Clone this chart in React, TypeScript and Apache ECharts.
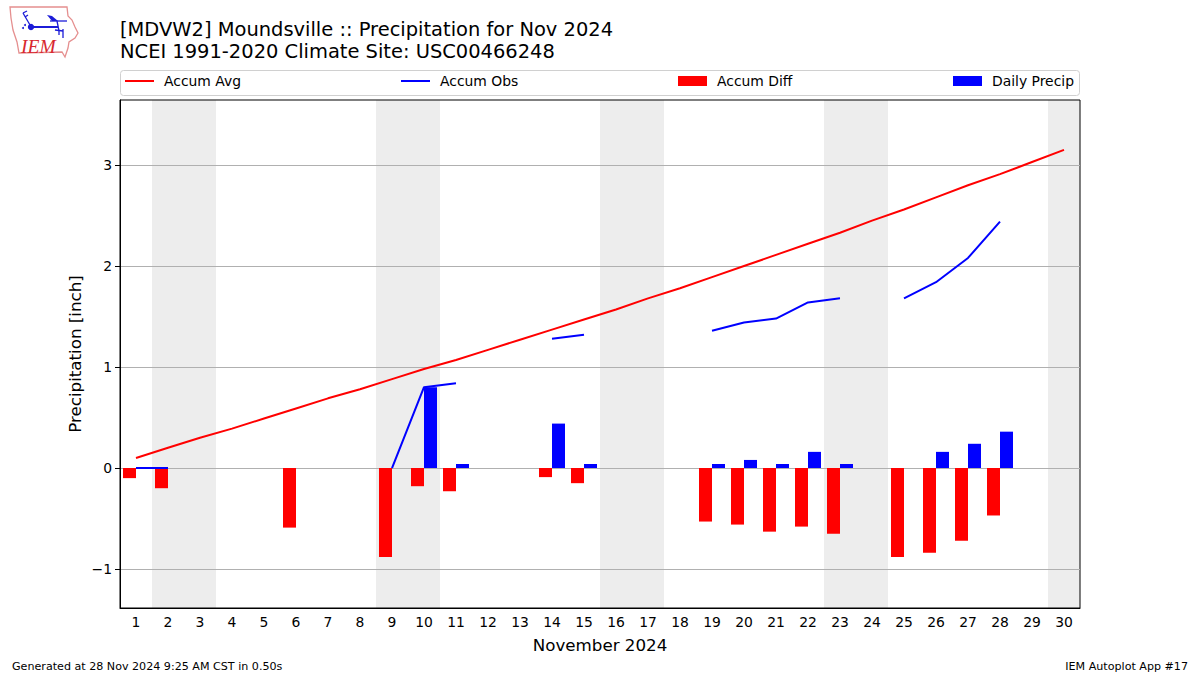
import React, { useEffect, useRef } from "react";
import * as echarts from "echarts";

const FONT = "DejaVu Sans";
const days = Array.from({ length: 30 }, (_, i) => String(i + 1));
const accumAvg = [0.1, 0.2, 0.3, 0.39, 0.49, 0.59, 0.69, 0.78, 0.88, 0.98, 1.07, 1.17, 1.27, 1.37, 1.47, 1.57, 1.68, 1.78, 1.89, 2.0, 2.11, 2.22, 2.33, 2.45, 2.56, 2.68, 2.8, 2.91, 3.03, 3.15];
const accumObs = [0, 0, null, null, null, null, null, null, 0, 0.8, 0.84, null, null, 1.28, 1.32, null, null, null, 1.36, 1.44, 1.48, 1.64, 1.68, null, 1.68, 1.84, 2.08, 2.44, null, null];
const accumDiff = [-0.1, -0.2, null, null, null, -0.59, null, null, -0.88, -0.18, -0.23, null, null, -0.09, -0.15, null, null, null, -0.53, -0.56, -0.63, -0.58, -0.65, null, -0.88, -0.84, -0.72, -0.47, null, null];
const dailyPrecip = [0, 0, null, null, null, null, null, null, null, 0.8, 0.04, null, null, 0.44, 0.04, null, null, null, 0.04, 0.08, 0.04, 0.16, 0.04, null, null, 0.16, 0.24, 0.36, null, null];
const weekendBands = [[1, 2], [8, 9], [15, 16], [22, 23], [29, 29]];
const yTicks = [-1, 0, 1, 2, 3];

const titleLines = "[MDVW2] Moundsville :: Precipitation for Nov 2024\nNCEI 1991-2020 Climate Site: USC00466248";
const footerLeft = "Generated at 28 Nov 2024 9:25 AM CST in 0.50s";
const footerRight = "IEM Autoplot App #17";

const iowa = [[10, 7], [67, 7], [68, 16], [72, 20], [75, 27], [78, 33], [75, 38], [69, 42], [68, 48], [65, 57], [62, 52], [19, 53], [17, 42], [13, 30], [11, 18]];
const blueLines: number[][][] = [
  [[31, 27], [58, 27]],
  [[30, 25], [23, 13]],
  [[23, 13], [27, 11]],
  [[25, 17], [28, 15]],
  [[50, 21], [67, 21]],
  [[57, 21], [59, 31]],
  [[55, 30], [63, 31]],
  [[63, 29], [63, 38]],
  [[59, 31], [59, 35]],
];

const legendItem = (name: string, left: number, icon?: string) => ({
  left,
  top: 74,
  padding: 0,
  itemWidth: 29,
  itemHeight: 10,
  data: [icon ? { name, icon } : { name, itemStyle: { opacity: 0 } }],
  textStyle: { fontFamily: FONT, fontSize: 13.9, color: "#000", padding: [0, 0, 0, 5] },
});

export default function App() {
  const ref = useRef<HTMLDivElement>(null);
  useEffect(() => {
    document.body.style.margin = "0";
    const chart = echarts.init(ref.current!, undefined, { renderer: "svg" });
    chart.setOption({
      animation: false,
      textStyle: { fontFamily: FONT },
      title: [
        { text: titleLines, left: 120, top: 18, padding: 0, textStyle: { fontFamily: FONT, fontSize: 19.47, fontWeight: "normal", color: "#000", lineHeight: 22 } },
        { text: footerLeft, left: 12, top: 661, padding: 0, textStyle: { fontFamily: FONT, fontSize: 11.12, fontWeight: "normal", color: "#000" } },
        { text: footerRight, right: 12, top: 661, padding: 0, textStyle: { fontFamily: FONT, fontSize: 11.12, fontWeight: "normal", color: "#000" } },
      ],
      legend: [
        legendItem("Accum Avg", 124),
        legendItem("Accum Obs", 400),
        legendItem("Accum Diff", 678, "rect"),
        legendItem("Daily Precip", 953, "rect"),
      ],
      grid: { left: 120, top: 100, height: 508, width: 960, show: true, borderColor: "#000", borderWidth: 1, backgroundColor: "transparent" },
      xAxis: {
        type: "category",
        data: days,
        name: "November 2024",
        nameLocation: "middle",
        nameGap: 28,
        nameTextStyle: { fontFamily: FONT, fontSize: 16.7, color: "#000" },
        axisLine: { onZero: false, lineStyle: { color: "#000" } },
        axisTick: { alignWithLabel: true, length: 5, lineStyle: { color: "#000" } },
        axisLabel: { interval: 0, fontFamily: FONT, fontSize: 13.9, color: "#000", margin: 7 },
        splitLine: { show: false },
      },
      yAxis: {
        type: "value",
        min: -1.386,
        max: 3.644,
        name: "Precipitation [inch]",
        nameLocation: "middle",
        nameGap: 37,
        nameMoveOverlap: false,
        nameTextStyle: { fontFamily: FONT, fontSize: 16.7, color: "#000" },
        axisLine: { show: true, lineStyle: { color: "#000" } },
        axisTick: { show: true, length: 5, lineStyle: { color: "#000" }, customValues: yTicks },
        axisLabel: {
          fontFamily: FONT,
          fontSize: 13.9,
          color: "#000",
          margin: 8,
          customValues: yTicks,
          formatter: (v: number) => String(v).replace("-", "\u2212"),
        },
        splitLine: { show: true, lineStyle: { color: "#b0b0b0", width: 1 } },
      },
      graphic: [
        { type: "rect", shape: { x: 120.5, y: 70.5, width: 959, height: 25, r: 3 }, style: { fill: "none", stroke: "#d0d0d0", lineWidth: 1 } },
        { type: "polygon", shape: { points: iowa }, style: { fill: "none", stroke: "#e58f8f", lineWidth: 1.3 } },
        ...blueLines.map(([a, b], i) => ({
          type: "line",
          shape: { x1: a[0], y1: a[1], x2: b[0], y2: b[1] },
          style: { stroke: "#1c1cd8", lineWidth: i === 0 ? 2 : 1.3 },
        })),
        { type: "circle", shape: { cx: 31, cy: 27, r: 3.2 }, style: { fill: "#1c1cd8" } },
        { type: "circle", shape: { cx: 23, cy: 28, r: 1 }, style: { fill: "#1c1cd8" } },
        { type: "circle", shape: { cx: 25, cy: 25, r: 1 }, style: { fill: "#1c1cd8" } },
        { type: "polygon", shape: { points: [[47, 15], [52, 16], [58, 21], [52, 21]] }, style: { fill: "#1c1cd8" } },
        { type: "text", x: 21, y: 36, style: { text: "IEM", fontFamily: "Liberation Serif", fontStyle: "italic", fontSize: 19.5, fill: "#d8282f" } },
      ],
      series: [
        {
          type: "custom",
          silent: true,
          z: -1,
          data: weekendBands,
          encode: { x: [0, 1] },
          renderItem: (params: any, api: any) => {
            const w = api.size([1, 0])[0];
            const x1 = api.coord([api.value(0), 0])[0] - w / 2;
            const x2 = api.coord([api.value(1), 0])[0] + w / 2;
            const cs = params.coordSys;
            return { type: "rect", shape: { x: x1, y: cs.y, width: x2 - x1, height: cs.height }, style: { fill: "#ededed" } };
          },
        },
        { name: "Accum Diff", type: "bar", data: accumDiff, barWidth: 13, barGap: "0%", itemStyle: { color: "#ff0000" }, z: 3 },
        { name: "Daily Precip", type: "bar", data: dailyPrecip, barWidth: 13, barGap: "0%", itemStyle: { color: "#0000ff" }, z: 3 },
        { name: "Accum Avg", type: "line", data: accumAvg, showSymbol: false, symbol: "none", lineStyle: { color: "#ff0000", width: 2 }, itemStyle: { color: "#ff0000" }, z: 4 },
        { name: "Accum Obs", type: "line", data: accumObs, connectNulls: false, showSymbol: false, symbol: "none", lineStyle: { color: "#0000ff", width: 2 }, itemStyle: { color: "#0000ff" }, z: 4 },
      ],
    });
    return () => chart.dispose();
  }, []);
  return <div ref={ref} style={{ width: 1200, height: 675 }} />;
}
